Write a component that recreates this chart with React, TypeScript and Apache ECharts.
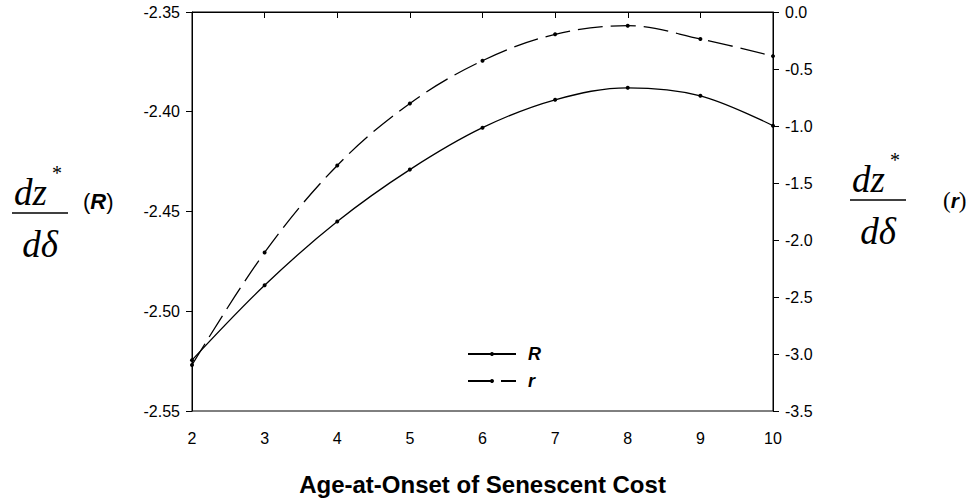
import React, { useEffect, useRef } from "react";
import * as echarts from "echarts";

const ages = [2, 3, 4, 5, 6, 7, 8, 9, 10];
const seriesR = [-2.5245, -2.487, -2.455, -2.429, -2.408, -2.394, -2.388, -2.392, -2.407];
const seriesr = [-3.096, -2.109, -1.346, -0.802, -0.427, -0.196, -0.12, -0.236, -0.387];
const leftTicks = { min: -2.55, max: -2.35, interval: 0.05 };
const rightTicks = { min: -3.5, max: 0, interval: 0.5 };
const xTitle = "Age-at-Onset of Senescent Cost";

const SANS = "'Liberation Sans', Arial, Helvetica, sans-serif";
const SERIF = "'Liberation Serif', 'Times New Roman', serif";

function fraction(cx: number, lineY: number, halfW: number) {
  return [
    {
      type: "text",
      x: cx - 26,
      y: lineY - 21,
      style: { text: "dz", font: `italic 37px ${SERIF}`, fill: "#000", textAlign: "left", textVerticalAlign: "middle" },
    },
    {
      type: "text",
      x: cx + 12,
      y: lineY - 40,
      style: { text: "*", font: `20px ${SERIF}`, fill: "#000", textAlign: "left", textVerticalAlign: "middle" },
    },
    {
      type: "line",
      shape: { x1: cx - halfW, y1: lineY, x2: cx + halfW, y2: lineY },
      style: { stroke: "#000", lineWidth: 1.6 },
    },
    {
      type: "text",
      x: cx,
      y: lineY + 31,
      style: { text: "dδ", font: `italic 37px ${SERIF}`, fill: "#000", textAlign: "center", textVerticalAlign: "middle" },
    },
  ];
}

export default function App() {
  const ref = useRef<HTMLDivElement>(null);
  useEffect(() => {
    if (!ref.current) return;
    const chart = echarts.init(ref.current, null, { renderer: "svg" });
    const option: any = {
      animation: false,
      backgroundColor: "#fff",
      grid: {
        left: 192,
        right: 196,
        top: 12,
        bottom: 79,
        show: true,
        borderColor: "#000",
        borderWidth: 1,
      },
      legend: {
        orient: "vertical",
        left: 462,
        top: 340,
        itemWidth: 48,
        itemHeight: 5,
        itemGap: 9,
        textStyle: {
          fontFamily: SANS,
          fontSize: 18,
          fontWeight: "bold",
          fontStyle: "italic",
          color: "#000",
          padding: [0, 0, 0, 7],
        },
        data: ["R", "r"],
      },
      xAxis: {
        type: "value",
        min: 2,
        max: 10,
        interval: 1,
        name: xTitle,
        nameLocation: "middle",
        nameGap: 61,
        nameTextStyle: { fontFamily: SANS, fontSize: 24, fontWeight: "bold", color: "#000" },
        axisLine: { lineStyle: { color: "#000", width: 1 } },
        axisTick: { length: 6, lineStyle: { color: "#000" } },
        axisLabel: { fontFamily: SANS, fontSize: 16, color: "#000", margin: 19 },
        splitLine: { show: false },
      },
      yAxis: [
        {
          type: "value",
          position: "left",
          min: leftTicks.min,
          max: leftTicks.max,
          interval: leftTicks.interval,
          axisLine: { show: true, lineStyle: { color: "#000", width: 1 } },
          axisTick: { show: true, length: 6, lineStyle: { color: "#000" } },
          axisLabel: {
            fontFamily: SANS,
            fontSize: 16,
            color: "#000",
            margin: 12,
            formatter: (v: number) => v.toFixed(2),
          },
          splitLine: { show: false },
        },
        {
          type: "value",
          position: "right",
          min: rightTicks.min,
          max: rightTicks.max,
          interval: rightTicks.interval,
          axisLine: { show: true, lineStyle: { color: "#000", width: 1 } },
          axisTick: { show: true, length: 6, lineStyle: { color: "#000" } },
          axisLabel: {
            fontFamily: SANS,
            fontSize: 16,
            color: "#000",
            margin: 12,
            formatter: (v: number) => v.toFixed(1),
          },
          splitLine: { show: false },
        },
      ],
      series: [
        {
          name: "R",
          type: "line",
          yAxisIndex: 0,
          data: ages.map((a, i) => [a, seriesR[i]]),
          smooth: 0.35,
          symbol: "circle",
          symbolSize: 4,
          itemStyle: { color: "#000" },
          lineStyle: { color: "#000", width: 1.3 },
        },
        {
          name: "r",
          type: "line",
          yAxisIndex: 1,
          data: ages.map((a, i) => [a, seriesr[i]]),
          smooth: 0.35,
          symbol: "circle",
          symbolSize: 4,
          itemStyle: { color: "#000" },
          lineStyle: { color: "#000", width: 1.3, type: [25, 8] },
        },
      ],
      graphic: [
        ...fraction(40, 213, 28),
        {
          type: "text",
          x: 83,
          y: 201,
          style: {
            text: "{p|(}{b|R}{p|)}",
            textVerticalAlign: "middle",
            rich: {
              p: { fontFamily: SANS, fontSize: 22, fill: "#000" },
              b: { fontFamily: SANS, fontSize: 22, fontWeight: "bold", fontStyle: "italic", fill: "#000" },
            },
          },
        },
        ...fraction(878, 200, 28),
        {
          type: "text",
          x: 943,
          y: 200,
          style: {
            text: "{p|(}{b|r}{p|)}",
            textVerticalAlign: "middle",
            rich: {
              p: { fontFamily: SERIF, fontSize: 23, fill: "#000" },
              b: { fontFamily: SANS, fontSize: 21, fontWeight: "bold", fontStyle: "italic", fill: "#000" },
            },
          },
        },
      ],
    };
    chart.setOption(option);
    return () => chart.dispose();
  }, []);
  return (
    <div
      ref={ref}
      style={{ position: "fixed", left: 0, top: 0, width: 969, height: 501, background: "#fff" }}
    />
  );
}
